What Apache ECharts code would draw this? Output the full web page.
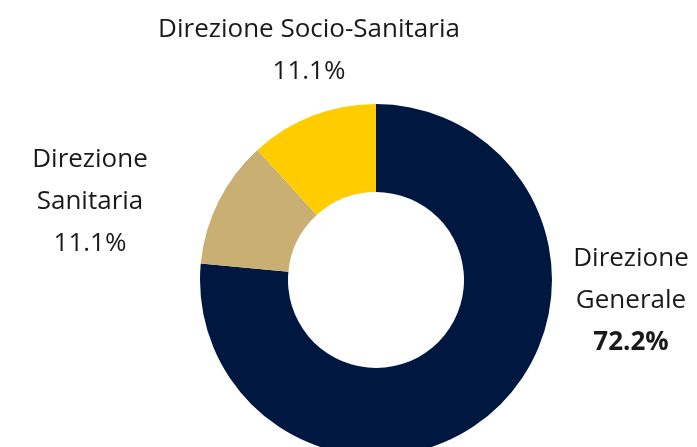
<!DOCTYPE html>
<html>
<head>
<meta charset="utf-8">
<script src="https://cdn.jsdelivr.net/npm/echarts@6/dist/echarts.min.js"></script>
<style>
    html, body { margin: 0; padding: 0; background: #fff; }
    #chart { width: 697px; height: 447px; }
</style>
</head>
<body>
<div id="chart"></div>
<script>
//--------------------------------
// Data
//--------------------------------
const names = ['Direzione\nGenerale', 'Direzione\nSanitaria', 'Direzione Socio-Sanitaria'];
const values = [72.2, 11.1, 11.1];
const colors = ['#001740', '#C9AF72', '#FFCC00'];
const boldPct = [true, false, false];

// label anchor (centre of text block) for each slice
const labelPos = [[631, 301], [90, 202], [309, 51]];

//--------------------------------
// Chart
//--------------------------------
var myChart = echarts.init(document.getElementById('chart'));

let pieData = names.map((n, i) => ({
    name: n,
    value: values[i],
    itemStyle: { color: colors[i] }
}));

let options = {
    animation: false,
    series: [
        {
            type: 'pie',
            center: [376, 280],
            radius: [88, 176],
            startAngle: 90,
            clockwise: true,
            silent: true,
            data: pieData,
            label: {
                show: true,
                position: 'outside',
                overflow: 'none',
                formatter: (p) => {
                    let lines = p.name.split('\n').map(s => `{n|${s}}`);
                    let pct = values[p.dataIndex].toFixed(1) + '%';
                    lines.push(boldPct[p.dataIndex] ? `{b|${pct}}` : `{n|${pct}}`);
                    return lines.join('\n');
                },
                rich: {
                    n: {
                        fontFamily: 'Open Sans',
                        fontSize: 26,
                        lineHeight: 42,
                        color: '#1a1a1a',
                        align: 'center'
                    },
                    b: {
                        fontFamily: 'Open Sans',
                        fontSize: 26,
                        fontWeight: 'bold',
                        lineHeight: 42,
                        color: '#1a1a1a',
                        align: 'center'
                    }
                }
            },
            labelLine: { show: false },
            labelLayout: (params) => {
                let pos = labelPos[params.dataIndex];
                return {
                    x: pos[0],
                    y: pos[1],
                    align: 'center',
                    verticalAlign: 'middle',
                    width: 400
                };
            }
        }
    ]
};
myChart.setOption(options);
</script>
</body>
</html>
